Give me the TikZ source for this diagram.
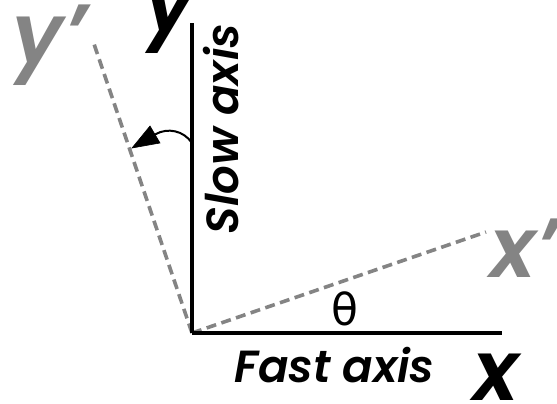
\documentclass[tikz,border=0pt]{standalone}
\usepackage{fontspec}
\setmainfont{Poppins}[BoldFont={* SemiBold}, BoldItalicFont={* SemiBold Italic}]
\newfontfamily\thetafont{DejaVu Sans}
\usetikzlibrary{arrows.meta}
\definecolor{axgray}{HTML}{848484}
\tikzset{
  axisline/.style={line width=3.2pt, black},
  rotline/.style={line width=3.6pt, axgray, dash pattern=on 10pt off 5.5pt},
  biglbl/.style={inner sep=0pt, font=\fontsize{84}{84}\selectfont\bfseries\itshape},
  axlbl/.style={inner sep=0pt, font=\fontsize{45}{45}\selectfont\bfseries\itshape},
  arrowhead/.style={fill=black, draw=black, line width=0.6pt, line join=miter},
}
\begin{document}
\begin{tikzpicture}[x=1pt,y=-1pt]
\useasboundingbox (0,0) rectangle (557,404);
\coordinate (O) at (192,333);
\coordinate (ytop) at (192,23);
\coordinate (xend) at (502,333);
\coordinate (yp) at (93,41);
\coordinate (xp) at (486,232);
\coordinate (arcS) at (192,143);
\coordinate (arcB) at (155,134.5);
\coordinate (tip) at (132,148);
\coordinate (hc1) at (150,126);
\coordinate (hc2) at (160,143);
\draw[rotline] (O) -- (yp);
\draw[rotline] (O) -- (xp);
\draw[axisline] (O) -- (ytop);
\draw[axisline] (O) -- (xend);
\draw[line width=2pt] (arcS) to[bend right=43] (arcB);
\filldraw[arrowhead] (tip) -- (hc1) -- (hc2) -- cycle;
\node[biglbl, anchor=base] (ylab) at (170,32) {y};
\node[biglbl, anchor=base west, text=axgray] (yplab) at (12,64) {y'};
\node[biglbl, anchor=base west, text=axgray] (xplab) at (490,277) {x'};
\node[biglbl, anchor=base] (xlab) at (496,400) {x};
\node[axlbl, anchor=base, rotate=90] (slow) at (238,129) {Slow axis};
\node[axlbl, anchor=base west] (fast) at (234,382) {Fast axis};
\node[inner sep=0pt, anchor=base, font=\fontsize{44}{44}\selectfont\thetafont] (th) at (345,325) {θ};
\end{tikzpicture}
\end{document}
